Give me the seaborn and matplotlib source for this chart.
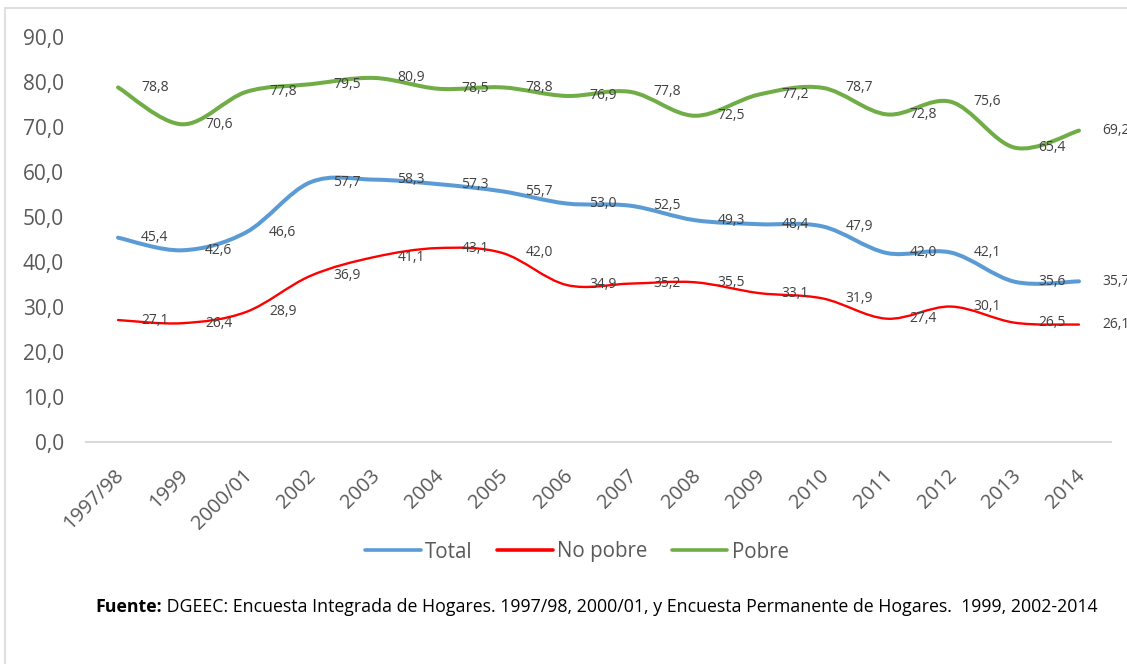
import numpy as np
import pandas as pd
import matplotlib
matplotlib.use("Agg")
import matplotlib.pyplot as plt
import seaborn as sns
from matplotlib.path import Path
from matplotlib.patches import PathPatch, Rectangle
from matplotlib.lines import Line2D
from matplotlib import font_manager
import matplotlib.transforms as mtransforms

# ---------------- data ----------------
categories = ["1997/98", "1999", "2000/01", "2002", "2003", "2004", "2005", "2006",
              "2007", "2008", "2009", "2010", "2011", "2012", "2013", "2014"]
total = [45.4, 42.6, 46.6, 57.7, 58.3, 57.3, 55.7, 53.0, 52.5, 49.3, 48.4, 47.9, 42.0, 42.1, 35.6, 35.7]
no_pobre = [27.1, 26.4, 28.9, 36.9, 41.1, 43.1, 42.0, 34.9, 35.2, 35.5, 33.1, 31.9, 27.4, 30.1, 26.5, 26.1]
pobre = [78.8, 70.6, 77.8, 79.5, 80.9, 78.5, 78.8, 76.9, 77.8, 72.5, 77.2, 78.7, 72.8, 75.6, 65.4, 69.2]
series_names = ["Total", "No pobre", "Pobre"]
yticks = [0, 10, 20, 30, 40, 50, 60, 70, 80, 90]
source_bold = "Fuente:"
source_rest = " DGEEC: Encuesta Integrada de Hogares. 1997/98, 2000/01, y Encuesta Permanente de Hogares.  1999, 2002-2014"

colors = {"Total": "#5B9BD5", "No pobre": "#FF0000", "Pobre": "#70AD47"}
widths = {"Total": 2.9, "No pobre": 1.7, "Pobre": 2.9}

sns.set_theme(style="white")
available = {f.name for f in font_manager.fontManager.ttflist}
main_font = "Open Sans" if "Open Sans" in available else "DejaVu Sans"
plt.rcParams["font.family"] = [main_font, "DejaVu Sans"]

W, H = 1127, 664
fig = plt.figure(figsize=(W / 100, H / 100), dpi=100)
fig.patch.set_facecolor("white")
ax = fig.add_axes([86 / W, 1 - 442 / H, (1111 - 86) / W, (442 - 37) / H])

pos = np.arange(len(categories))
df = pd.DataFrame({
    "pos": np.concatenate([pos] * 3),
    "value": total + no_pobre + pobre,
    "serie": ["Total"] * len(pos) + ["No pobre"] * len(pos) + ["Pobre"] * len(pos),
})
sns.lineplot(data=df, x="pos", y="value", hue="serie", hue_order=series_names,
             palette=colors, legend=False, ax=ax)
for ln in ax.lines:
    ln.set_visible(False)


def smooth_path(xs, ys):
    pts = np.column_stack([xs, ys]).astype(float)
    n = len(pts)
    verts = [pts[0]]
    codes = [Path.MOVETO]
    for i in range(n - 1):
        p0 = pts[i - 1] if i > 0 else pts[i]
        p1 = pts[i]
        p2 = pts[i + 1]
        p3 = pts[i + 2] if i + 2 < n else pts[i + 1]
        c1 = p1 + (p2 - p0) / 6.0
        c2 = p2 - (p3 - p1) / 6.0
        verts += [c1, c2, p2]
        codes += [Path.CURVE4] * 3
    return Path(verts, codes)


values = {"Total": total, "No pobre": no_pobre, "Pobre": pobre}
for name in series_names:
    patch = PathPatch(smooth_path(pos, values[name]), fill=False, edgecolor=colors[name],
                      lw=widths[name], capstyle="round", joinstyle="round", zorder=3)
    ax.add_patch(patch)
    for x, v in zip(pos, values[name]):
        ax.annotate(f"{v:.1f}".replace(".", ","), (x, v), xytext=(23, 0),
                    textcoords="offset pixels", ha="left", va="center",
                    fontsize=10, color="#404040", zorder=4)

ax.set_xlim(-0.5, len(categories) - 0.5)
ax.set_ylim(0, 90)
ax.set_yticks(yticks)
ax.set_yticklabels([f"{v:.1f}".replace(".", ",") for v in yticks])
ax.set_xticks(pos)
ax.set_xticklabels(categories, rotation=45, ha="right", rotation_mode="anchor")
ax.tick_params(axis="y", length=0, pad=16, labelsize=15, labelcolor="#595959")
ax.tick_params(axis="x", length=0, pad=17, labelsize=14.5, labelcolor="#595959")
shift = mtransforms.ScaledTranslation(-4 / 100, 0, fig.dpi_scale_trans)
for lbl in ax.get_xticklabels():
    lbl.set_transform(lbl.get_transform() + shift)
ax.set_xlabel("")
ax.set_ylabel("")
ax.grid(False)
for s in ["left", "right", "top"]:
    ax.spines[s].set_visible(False)
ax.spines["bottom"].set_color("#D9D9D9")
ax.spines["bottom"].set_linewidth(1.5)
ax.set_facecolor("none")

handles = [Line2D([0], [0], color=colors[n], lw=2.6) for n in series_names]
fig.legend(handles, series_names, loc="center", bbox_to_anchor=(577 / W, 1 - 552 / H),
           ncol=3, frameon=False, fontsize=14.8, labelcolor="#595959",
           handlelength=2.7, handletextpad=0.2, columnspacing=1.2)

# outer border
fig.add_artist(Rectangle((4.5 / W, -0.5), 1.5, 1.5 - 7.5 / H, transform=fig.transFigure,
                         fill=False, edgecolor="#D9D9D9", lw=1.2))

# source note
t1 = fig.text(95 / W, 1 - 607 / H, source_bold, fontsize=12.8, fontweight="bold",
              color="black", ha="left", va="center")
fig.canvas.draw()
bb = t1.get_window_extent()
fig.text(bb.x1 / W, 1 - 607 / H, source_rest, fontsize=12.8, color="black",
         ha="left", va="center")

fig.savefig("out.png", dpi=100)
